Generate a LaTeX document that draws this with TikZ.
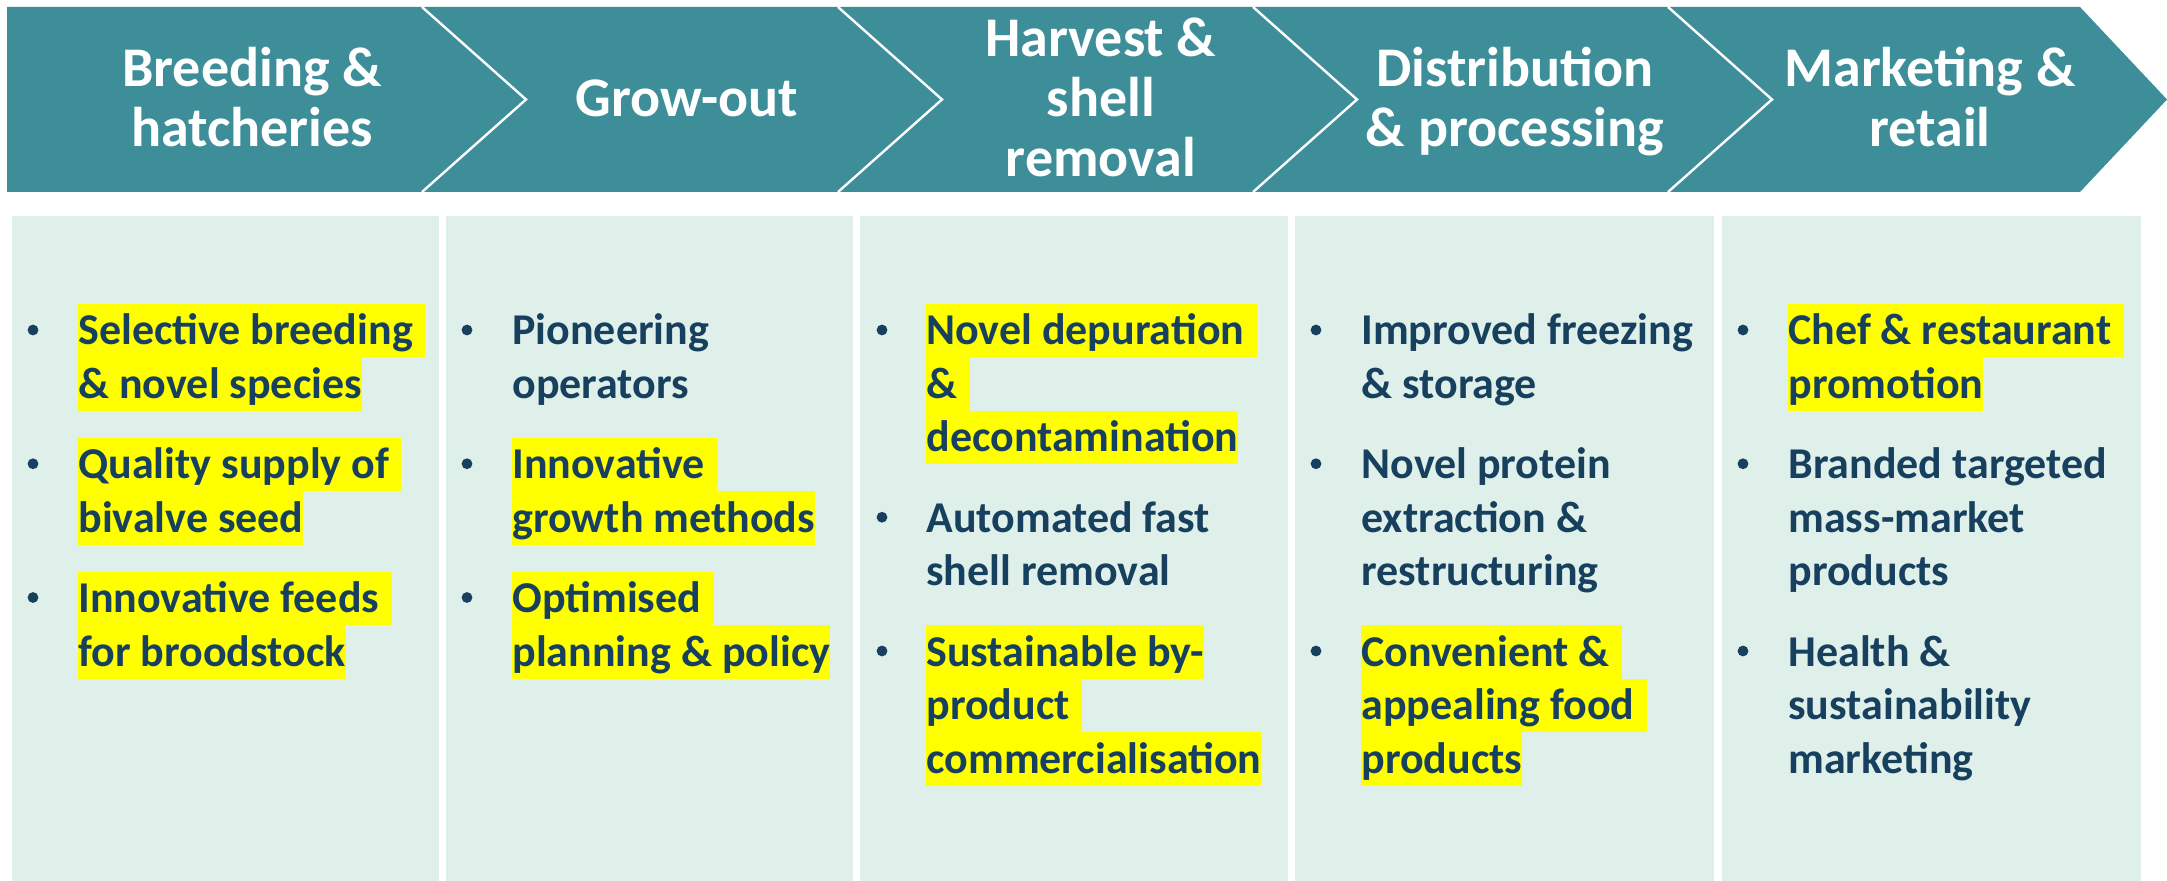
\documentclass[tikz,border=0pt]{standalone}
\usepackage{fontspec}
\setmainfont{Carlito}

\definecolor{bannerteal}{RGB}{61,142,152}
\definecolor{panelmint}{RGB}{223,240,234}
\definecolor{inknavy}{RGB}{23,64,94}
\definecolor{marker}{RGB}{255,255,0}

\tikzset{
  banner/.style={fill=bannerteal, draw=none},
  divider/.style={draw=white, line width=1.2pt, line join=miter},
  panel/.style={fill=panelmint, draw=none},
  head/.style={anchor=base, inner sep=0pt, text=white,
    font=\fontsize{28}{30}\selectfont\bfseries},
  plainline/.style={anchor=base west, inner xsep=0pt, inner ysep=0pt,
    text height=20.5pt, text depth=6.25pt, text=inknavy,
    font=\fontsize{22}{26.75}\selectfont\bfseries},
  hiline/.style={plainline, fill=marker},
  bulletdot/.style={circle, fill=inknavy, inner sep=0pt, minimum size=5.4pt},
}

% marked space kept at the end of a wrapped line
\newcommand\trail{\kern0.28em}
% one text line of a list item, with or without the yellow marker
\newcommand\markedline[4]{\node[hiline] (#1) at (#2,#3) {#4};}
\newcommand\plainlineat[4]{\node[plainline] (#1) at (#2,#3) {#4};}
\newcommand\bulletat[3]{\node[bulletdot] (#1) at (#2,#3) {};}

\begin{document}
\begin{tikzpicture}[x=0.5pt, y=-0.5pt]
\useasboundingbox (0,0) rectangle (2167,881);

% ---- arrow banner across the top ----
\path[banner] (7,7) -- (2080,7) -- (2167,99.5) -- (2080,192) -- (7,192) -- cycle;
\foreach \nx in {422,838,1253,1668}{
  \draw[divider] (\nx,7) -- (\nx+104,99.5) -- (\nx,192);
}

% stage titles
\node[head] (h1a) at (252,86.5)  {Breeding \&};
\node[head] (h1b) at (252,146.5) {hatcheries};
\node[head] (h2a) at (687,116.5) {Grow-out};
\node[head] (h3a) at (1101,56.5)  {Harvest \&};
\node[head] (h3b) at (1101,116.5) {shell};
\node[head] (h3c) at (1101,176.5) {removal};
\node[head] (h4a) at (1515,86.5)  {Distribution};
\node[head] (h4b) at (1515,146.5) {\& processing};
\node[head] (h5a) at (1930,86.5)  {Marketing \&};
\node[head] (h5b) at (1930,146.5) {retail};

% ---- column panels ----
\path[panel] (12,216)   rectangle (439,881);
\path[panel] (446,216)  rectangle (853,881);
\path[panel] (860,216)  rectangle (1288,881);
\path[panel] (1295,216) rectangle (1714,881);
\path[panel] (1722,216) rectangle (2141,881);

% column 1
\bulletat{b11}{33}{330}
\markedline{t11a}{78}{345}{Selective breeding\trail}
\markedline{t11b}{78}{398.5}{\& novel species}
\bulletat{b12}{33}{463.75}
\markedline{t12a}{78}{478.75}{Quality supply of\trail}
\markedline{t12b}{78}{532.25}{bivalve seed}
\bulletat{b13}{33}{597.5}
\markedline{t13a}{78}{612.5}{Innovative feeds\trail}
\markedline{t13b}{78}{666}{for broodstock}

% column 2
\bulletat{b21}{467}{330}
\plainlineat{t21a}{512}{345}{Pioneering}
\plainlineat{t21b}{512}{398.5}{operators}
\bulletat{b22}{467}{463.75}
\markedline{t22a}{512}{478.75}{Innovative\trail}
\markedline{t22b}{512}{532.25}{growth methods}
\bulletat{b23}{467}{597.5}
\markedline{t23a}{512}{612.5}{Optimised\trail}
\markedline{t23b}{512}{666}{planning \& policy}

% column 3
\bulletat{b31}{882}{330}
\markedline{t31a}{926}{345}{Novel depuration\trail}
\markedline{t31b}{926}{398.5}{\&\trail}
\markedline{t31c}{926}{452}{decontamination}
\bulletat{b32}{882}{517.25}
\plainlineat{t32a}{926}{532.25}{Automated fast}
\plainlineat{t32b}{926}{585.75}{shell removal}
\bulletat{b33}{882}{651}
\markedline{t33a}{926}{666}{Sustainable by-}
\markedline{t33b}{926}{719.5}{product\trail}
\markedline{t33c}{926}{773}{commercialisation}

% column 4
\bulletat{b41}{1316}{330}
\plainlineat{t41a}{1361}{345}{Improved freezing}
\plainlineat{t41b}{1361}{398.5}{\& storage}
\bulletat{b42}{1316}{463.75}
\plainlineat{t42a}{1361}{478.75}{Novel protein}
\plainlineat{t42b}{1361}{532.25}{extraction \&}
\plainlineat{t42c}{1361}{585.75}{restructuring}
\bulletat{b43}{1316}{651}
\markedline{t43a}{1361}{666}{Convenient \&\trail}
\markedline{t43b}{1361}{719.5}{appealing food\trail}
\markedline{t43c}{1361}{773}{products}

% column 5
\bulletat{b51}{1743}{330}
\markedline{t51a}{1788}{345}{Chef \& restaurant\trail}
\markedline{t51b}{1788}{398.5}{promotion}
\bulletat{b52}{1743}{463.75}
\plainlineat{t52a}{1788}{478.75}{Branded targeted}
\plainlineat{t52b}{1788}{532.25}{mass-market}
\plainlineat{t52c}{1788}{585.75}{products}
\bulletat{b53}{1743}{651}
\plainlineat{t53a}{1788}{666}{Health \&}
\plainlineat{t53b}{1788}{719.5}{sustainability}
\plainlineat{t53c}{1788}{773}{marketing}
\end{tikzpicture}
\end{document}
